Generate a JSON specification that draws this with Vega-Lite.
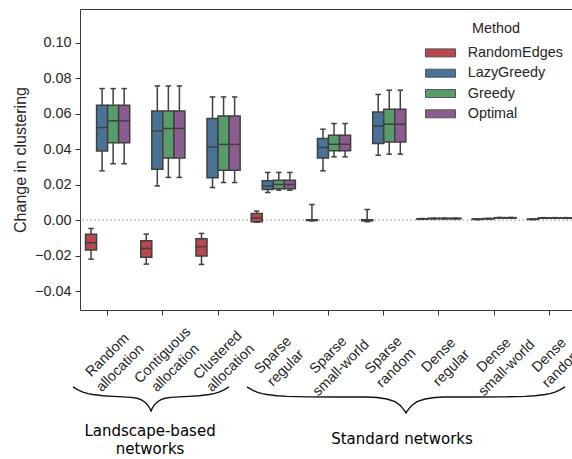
{
  "$schema": "https://vega.github.io/schema/vega-lite/v6.json",
  "width": 492,
  "height": 301,
  "autosize": {"type": "none"},
  "padding": {"left": 80, "top": 9, "right": 0, "bottom": 149},
  "config": {
    "font": "Liberation Sans",
    "view": {"stroke": "#3a3a3a", "strokeWidth": 1},
    "axis": {"labelFont": "Liberation Sans", "titleFont": "Liberation Sans", "labelColor": "#262626", "titleColor": "#262626", "grid": false, "domain": false, "tickColor": "#333333", "tickWidth": 1, "tickSize": 5},
    "legend": {"labelFont": "Liberation Sans", "titleFont": "Liberation Sans"}
  },
  "datasets": {
    "boxes": [
      {"cat": "Random allocation", "method": "RandomEdges", "lo": -0.0220, "q1": -0.0169, "med": -0.0128, "q3": -0.0079, "hi": -0.0047},
      {"cat": "Random allocation", "method": "LazyGreedy", "lo": 0.0278, "q1": 0.0390, "med": 0.0522, "q3": 0.0648, "hi": 0.0742},
      {"cat": "Random allocation", "method": "Greedy", "lo": 0.0318, "q1": 0.0436, "med": 0.0560, "q3": 0.0648, "hi": 0.0742},
      {"cat": "Random allocation", "method": "Optimal", "lo": 0.0318, "q1": 0.0436, "med": 0.0560, "q3": 0.0648, "hi": 0.0742},
      {"cat": "Contiguous allocation", "method": "RandomEdges", "lo": -0.0248, "q1": -0.0210, "med": -0.0160, "q3": -0.0117, "hi": -0.0079},
      {"cat": "Contiguous allocation", "method": "LazyGreedy", "lo": 0.0193, "q1": 0.0287, "med": 0.0503, "q3": 0.0616, "hi": 0.0757},
      {"cat": "Contiguous allocation", "method": "Greedy", "lo": 0.0241, "q1": 0.0351, "med": 0.0517, "q3": 0.0616, "hi": 0.0757},
      {"cat": "Contiguous allocation", "method": "Optimal", "lo": 0.0241, "q1": 0.0351, "med": 0.0517, "q3": 0.0616, "hi": 0.0757},
      {"cat": "Clustered allocation", "method": "RandomEdges", "lo": -0.0250, "q1": -0.0203, "med": -0.0150, "q3": -0.0105, "hi": -0.0075},
      {"cat": "Clustered allocation", "method": "LazyGreedy", "lo": 0.0184, "q1": 0.0239, "med": 0.0413, "q3": 0.0573, "hi": 0.0695},
      {"cat": "Clustered allocation", "method": "Greedy", "lo": 0.0212, "q1": 0.0282, "med": 0.0427, "q3": 0.0588, "hi": 0.0695},
      {"cat": "Clustered allocation", "method": "Optimal", "lo": 0.0212, "q1": 0.0282, "med": 0.0427, "q3": 0.0588, "hi": 0.0695},
      {"cat": "Sparse regular", "method": "RandomEdges", "lo": -0.0012, "q1": -0.0009, "med": 0.0012, "q3": 0.0038, "hi": 0.0051},
      {"cat": "Sparse regular", "method": "LazyGreedy", "lo": 0.0156, "q1": 0.0173, "med": 0.0193, "q3": 0.0222, "hi": 0.0269},
      {"cat": "Sparse regular", "method": "Greedy", "lo": 0.0169, "q1": 0.0177, "med": 0.0201, "q3": 0.0225, "hi": 0.0269},
      {"cat": "Sparse regular", "method": "Optimal", "lo": 0.0169, "q1": 0.0177, "med": 0.0201, "q3": 0.0225, "hi": 0.0269},
      {"cat": "Sparse small-world", "method": "RandomEdges", "lo": -0.0004, "q1": -0.0002, "med": 0.0000, "q3": 0.0002, "hi": 0.0088},
      {"cat": "Sparse small-world", "method": "LazyGreedy", "lo": 0.0278, "q1": 0.0351, "med": 0.0410, "q3": 0.0460, "hi": 0.0513},
      {"cat": "Sparse small-world", "method": "Greedy", "lo": 0.0357, "q1": 0.0391, "med": 0.0428, "q3": 0.0479, "hi": 0.0545},
      {"cat": "Sparse small-world", "method": "Optimal", "lo": 0.0357, "q1": 0.0391, "med": 0.0428, "q3": 0.0479, "hi": 0.0545},
      {"cat": "Sparse random", "method": "RandomEdges", "lo": -0.0009, "q1": -0.0004, "med": 0.0000, "q3": 0.0002, "hi": 0.0060},
      {"cat": "Sparse random", "method": "LazyGreedy", "lo": 0.0366, "q1": 0.0432, "med": 0.0530, "q3": 0.0610, "hi": 0.0709},
      {"cat": "Sparse random", "method": "Greedy", "lo": 0.0372, "q1": 0.0441, "med": 0.0541, "q3": 0.0626, "hi": 0.0733},
      {"cat": "Sparse random", "method": "Optimal", "lo": 0.0372, "q1": 0.0441, "med": 0.0541, "q3": 0.0626, "hi": 0.0733},
      {"cat": "Dense regular", "method": "RandomEdges", "lo": 0.0005, "q1": 0.0006, "med": 0.0007, "q3": 0.0008, "hi": 0.0009},
      {"cat": "Dense regular", "method": "LazyGreedy", "lo": 0.0007, "q1": 0.0008, "med": 0.0009, "q3": 0.0010, "hi": 0.0011},
      {"cat": "Dense regular", "method": "Greedy", "lo": 0.0007, "q1": 0.0008, "med": 0.0009, "q3": 0.0010, "hi": 0.0011},
      {"cat": "Dense regular", "method": "Optimal", "lo": 0.0007, "q1": 0.0008, "med": 0.0009, "q3": 0.0010, "hi": 0.0011},
      {"cat": "Dense small-world", "method": "RandomEdges", "lo": 0.0003, "q1": 0.0004, "med": 0.0005, "q3": 0.0006, "hi": 0.0007},
      {"cat": "Dense small-world", "method": "LazyGreedy", "lo": 0.0006, "q1": 0.0007, "med": 0.0008, "q3": 0.0009, "hi": 0.0010},
      {"cat": "Dense small-world", "method": "Greedy", "lo": 0.0011, "q1": 0.0012, "med": 0.0013, "q3": 0.0014, "hi": 0.0015},
      {"cat": "Dense small-world", "method": "Optimal", "lo": 0.0011, "q1": 0.0012, "med": 0.0013, "q3": 0.0014, "hi": 0.0015},
      {"cat": "Dense random", "method": "RandomEdges", "lo": 0.0003, "q1": 0.0004, "med": 0.0005, "q3": 0.0006, "hi": 0.0007},
      {"cat": "Dense random", "method": "LazyGreedy", "lo": 0.0010, "q1": 0.0011, "med": 0.0012, "q3": 0.0013, "hi": 0.0014},
      {"cat": "Dense random", "method": "Greedy", "lo": 0.0010, "q1": 0.0011, "med": 0.0012, "q3": 0.0013, "hi": 0.0014},
      {"cat": "Dense random", "method": "Optimal", "lo": 0.0010, "q1": 0.0011, "med": 0.0012, "q3": 0.0013, "hi": 0.0014}
    ],
    "braces": [
      {"brace": "landscape", "x": -0.627, "y": -0.0941},
      {"brace": "landscape", "x": -0.536, "y": -0.0958},
      {"brace": "landscape", "x": -0.446, "y": -0.0970},
      {"brace": "landscape", "x": -0.355, "y": -0.0979},
      {"brace": "landscape", "x": -0.265, "y": -0.0984},
      {"brace": "landscape", "x": -0.083, "y": -0.0991},
      {"brace": "landscape", "x": 0.098, "y": -0.0994},
      {"brace": "landscape", "x": 0.279, "y": -0.0997},
      {"brace": "landscape", "x": 0.424, "y": -0.1000},
      {"brace": "landscape", "x": 0.532, "y": -0.1005},
      {"brace": "landscape", "x": 0.605, "y": -0.1013},
      {"brace": "landscape", "x": 0.677, "y": -0.1027},
      {"brace": "landscape", "x": 0.731, "y": -0.1045},
      {"brace": "landscape", "x": 0.768, "y": -0.1064},
      {"brace": "landscape", "x": 0.786, "y": -0.1077},
      {"brace": "landscape", "x": 0.804, "y": -0.1064},
      {"brace": "landscape", "x": 0.840, "y": -0.1045},
      {"brace": "landscape", "x": 0.894, "y": -0.1027},
      {"brace": "landscape", "x": 0.967, "y": -0.1013},
      {"brace": "landscape", "x": 1.039, "y": -0.1005},
      {"brace": "landscape", "x": 1.148, "y": -0.1000},
      {"brace": "landscape", "x": 1.293, "y": -0.0997},
      {"brace": "landscape", "x": 1.474, "y": -0.0994},
      {"brace": "landscape", "x": 1.655, "y": -0.0991},
      {"brace": "landscape", "x": 1.836, "y": -0.0984},
      {"brace": "landscape", "x": 1.927, "y": -0.0979},
      {"brace": "landscape", "x": 2.017, "y": -0.0970},
      {"brace": "landscape", "x": 2.108, "y": -0.0958},
      {"brace": "landscape", "x": 2.198, "y": -0.0941},
      {"brace": "standard", "x": 2.524, "y": -0.0941},
      {"brace": "standard", "x": 2.615, "y": -0.0958},
      {"brace": "standard", "x": 2.705, "y": -0.0970},
      {"brace": "standard", "x": 2.796, "y": -0.0979},
      {"brace": "standard", "x": 2.886, "y": -0.0984},
      {"brace": "standard", "x": 3.067, "y": -0.0991},
      {"brace": "standard", "x": 3.249, "y": -0.0994},
      {"brace": "standard", "x": 3.611, "y": -0.0997},
      {"brace": "standard", "x": 4.154, "y": -0.0998},
      {"brace": "standard", "x": 4.697, "y": -0.0998},
      {"brace": "standard", "x": 4.878, "y": -0.1001},
      {"brace": "standard", "x": 5.059, "y": -0.1009},
      {"brace": "standard", "x": 5.204, "y": -0.1024},
      {"brace": "standard", "x": 5.295, "y": -0.1044},
      {"brace": "standard", "x": 5.349, "y": -0.1063},
      {"brace": "standard", "x": 5.385, "y": -0.1079},
      {"brace": "standard", "x": 5.404, "y": -0.1088},
      {"brace": "standard", "x": 5.422, "y": -0.1079},
      {"brace": "standard", "x": 5.458, "y": -0.1063},
      {"brace": "standard", "x": 5.512, "y": -0.1044},
      {"brace": "standard", "x": 5.603, "y": -0.1024},
      {"brace": "standard", "x": 5.748, "y": -0.1009},
      {"brace": "standard", "x": 5.929, "y": -0.1001},
      {"brace": "standard", "x": 6.110, "y": -0.0998},
      {"brace": "standard", "x": 6.653, "y": -0.0998},
      {"brace": "standard", "x": 7.196, "y": -0.0997},
      {"brace": "standard", "x": 7.558, "y": -0.0994},
      {"brace": "standard", "x": 7.740, "y": -0.0991},
      {"brace": "standard", "x": 7.921, "y": -0.0984},
      {"brace": "standard", "x": 8.011, "y": -0.0979},
      {"brace": "standard", "x": 8.102, "y": -0.0970},
      {"brace": "standard", "x": 8.192, "y": -0.0958},
      {"brace": "standard", "x": 8.283, "y": -0.0941}
    ],
    "groups": [
      {"label": "Landscape-based\nnetworks", "x": 0.768, "y": -0.1218},
      {"label": "Standard networks", "x": 5.331, "y": -0.1263}
    ]
  },
  "resolve": {"scale": {"x": "independent"}, "axis": {"x": "independent"}},
  "layer": [
    {
      "data": {"values": [{"zero": 0}]},
      "mark": {"type": "rule", "color": "#8c8c8c", "strokeDash": [1.5, 2.5], "strokeWidth": 1},
      "encoding": {
        "y": {"field": "zero", "type": "quantitative", "title": "Change in clustering",
          "scale": {"domain": [-0.0507, 0.1191], "nice": false, "zero": false},
          "axis": {"title": "Change in clustering", "titleFontSize": 16, "titleFontWeight": "normal", "titlePadding": 6, "values": [-0.04, -0.02, 0, 0.02, 0.04, 0.06, 0.08, 0.1], "format": ".2f", "labelFontSize": 14.4, "labelPadding": 4}}
      }
    },
    {
      "data": {"name": "boxes"},
      "encoding": {
        "x": {"field": "cat", "type": "nominal", "sort": null,
          "scale": {"range": [0, 497], "paddingInner": 0.2, "paddingOuter": 0.1},
          "axis": {"title": null, "labelAngle": -45, "labelAlign": "center", "labelBaseline": "middle", "labelPadding": 40, "labelFontSize": 14.4, "labelLineHeight": 18, "labelExpr": "split(datum.label, ' ')", "labelOverlap": false, "labelBound": false, "labelFlush": false, "ticks": true}},
        "xOffset": {"field": "method", "type": "nominal", "sort": ["RandomEdges", "LazyGreedy", "Greedy", "Optimal"], "scale": {"paddingInner": 0, "paddingOuter": 0}}
      },
      "layer": [
        {
          "mark": {"type": "rule", "color": "#404040", "strokeWidth": 1.5},
          "encoding": {
            "y": {"field": "lo", "type": "quantitative", "title": "Change in clustering",
              "axis": {"title": "Change in clustering", "titleFontSize": 16, "titleFontWeight": "normal", "titlePadding": 6, "values": [-0.04, -0.02, 0, 0.02, 0.04, 0.06, 0.08, 0.1], "format": ".2f", "labelFontSize": 14.4, "labelPadding": 4}},
            "y2": {"field": "hi"}
          }
        },
        {
          "mark": {"type": "bar", "stroke": "#404040", "strokeWidth": 1.5},
          "encoding": {
            "y": {"field": "q1", "type": "quantitative", "title": "Change in clustering"},
            "y2": {"field": "q3"},
            "color": {"field": "method", "type": "nominal", "sort": ["RandomEdges", "LazyGreedy", "Greedy", "Optimal"],
              "scale": {"domain": ["RandomEdges", "LazyGreedy", "Greedy", "Optimal"], "range": ["#b8474f", "#4a7297", "#579c69", "#8b5c8f"]},
              "legend": {"title": "Method", "orient": "none", "legendX": 350, "legendY": 13, "titleFontSize": 14.4, "titleFontWeight": "normal", "titleColor": "#262626", "titleAnchor": "middle", "titlePadding": 6, "labelFontSize": 14.4, "labelColor": "#262626", "symbolType": "M-1.5,-0.4H1.5V0.4H-1.5Z", "symbolSize": 400, "symbolStrokeColor": "#555555", "symbolStrokeWidth": 1, "symbolOpacity": 1, "labelOffset": 16.7, "rowPadding": 3.3, "padding": 0}}
          }
        },
        {
          "mark": {"type": "tick", "color": "#404040", "thickness": 1.5, "size": 11, "opacity": 1},
          "encoding": {"y": {"field": "med", "type": "quantitative", "title": "Change in clustering"}}
        },
        {
          "mark": {"type": "tick", "color": "#404040", "thickness": 1.5, "size": 5.5, "opacity": 1},
          "encoding": {"y": {"field": "lo", "type": "quantitative", "title": "Change in clustering"}}
        },
        {
          "mark": {"type": "tick", "color": "#404040", "thickness": 1.5, "size": 5.5, "opacity": 1},
          "encoding": {"y": {"field": "hi", "type": "quantitative", "title": "Change in clustering"}}
        }
      ]
    },
    {
      "data": {"name": "braces"},
      "mark": {"type": "line", "color": "#111111", "strokeWidth": 1.4},
      "encoding": {
        "x": {"field": "x", "type": "quantitative", "scale": {"domain": [-0.5, 8.5], "range": [0, 497], "nice": false, "zero": false}, "axis": null},
        "y": {"field": "y", "type": "quantitative", "title": "Change in clustering"},
        "detail": {"field": "brace", "type": "nominal"}
      }
    },
    {
      "data": {"name": "groups"},
      "mark": {"type": "text", "font": "DejaVu Sans", "fontSize": 15, "color": "#000000", "align": "center", "baseline": "alphabetic", "lineBreak": "\n", "lineHeight": 17.5},
      "encoding": {
        "x": {"field": "x", "type": "quantitative", "scale": {"domain": [-0.5, 8.5], "range": [0, 497], "nice": false, "zero": false}, "axis": null},
        "y": {"field": "y", "type": "quantitative", "title": "Change in clustering"},
        "text": {"field": "label", "type": "nominal"}
      }
    }
  ]
}
